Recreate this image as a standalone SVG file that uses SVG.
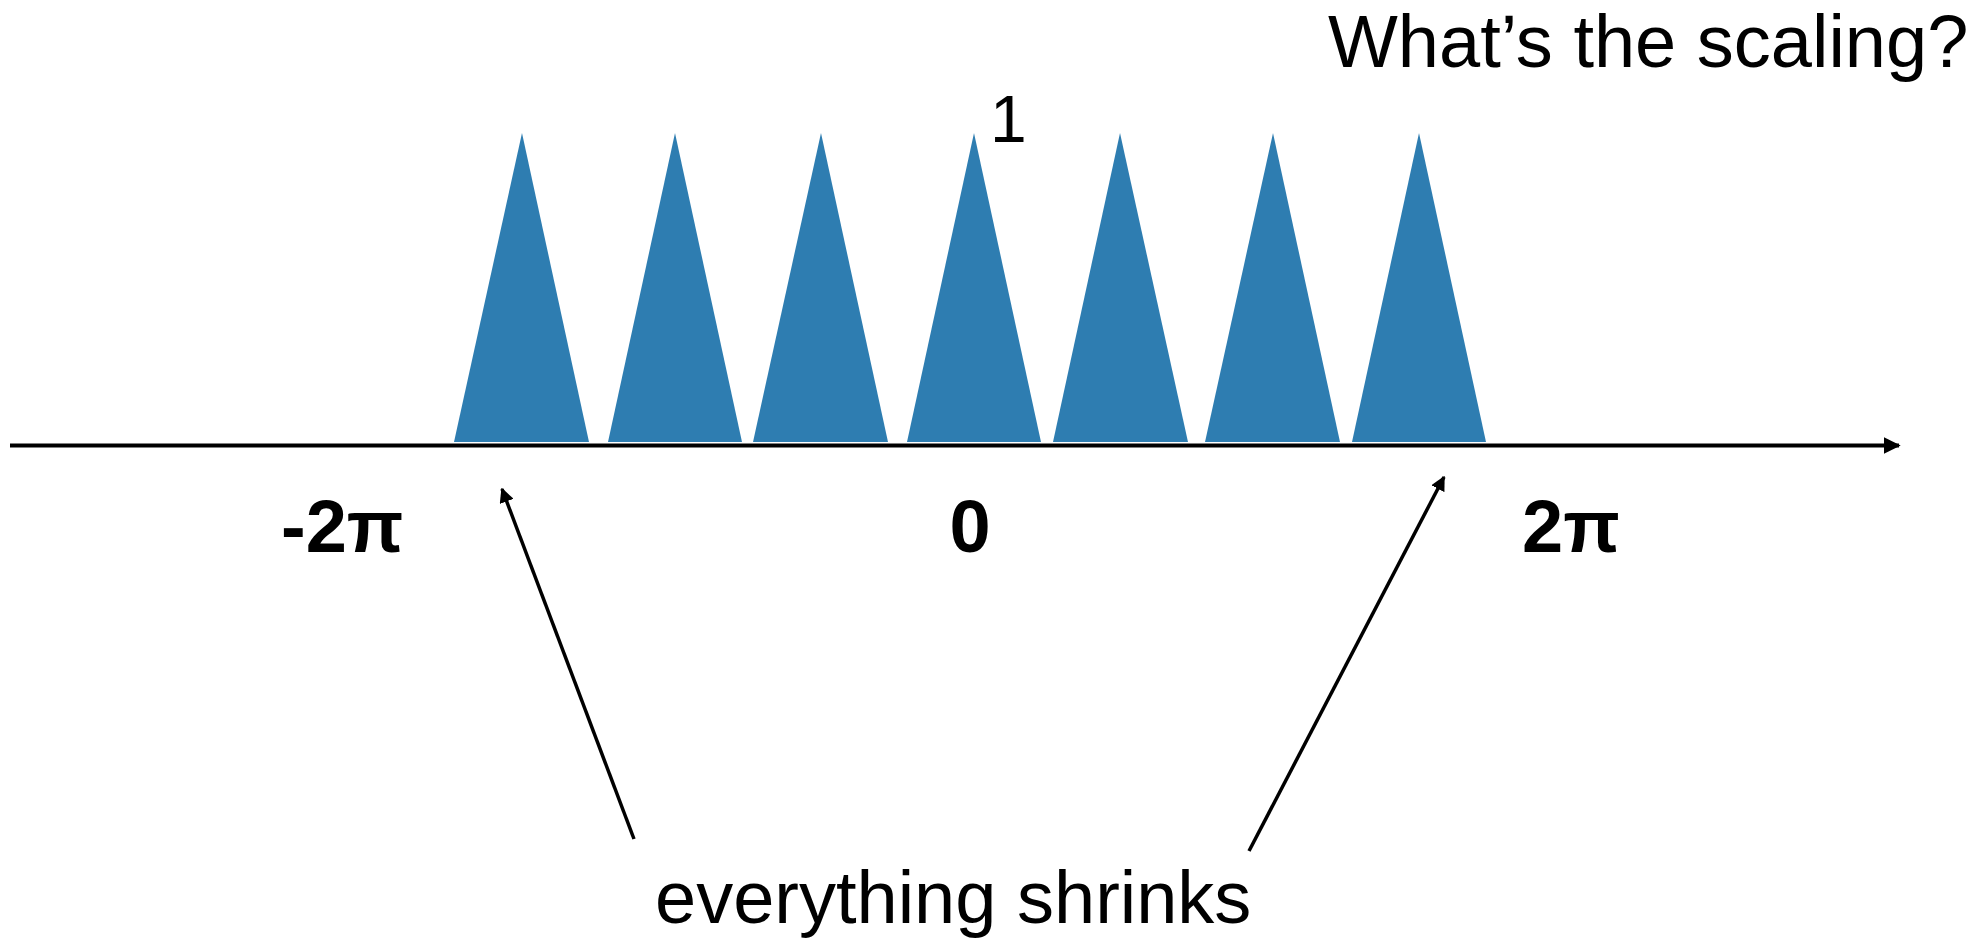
<svg xmlns="http://www.w3.org/2000/svg" width="1988" height="942" viewBox="0 0 1988 942">
  <style>
    .tri { fill: #2e7db1; }
    .lbl { font-family: "Liberation Sans", Arial, sans-serif; fill: #000; }
    .bold { font-weight: bold; font-size: 74px; }
    .norm { font-size: 74px; }
    .conn { stroke: #000; stroke-width: 3.5; fill: none; }
    .axis { stroke: #000; stroke-width: 4; fill: none; }
  </style>
  <defs>
    <marker id="ah" viewBox="0 0 10 10" refX="9" refY="5" markerWidth="4.2" markerHeight="4.2" markerUnits="strokeWidth" orient="auto">
      <path d="M0,0 L10,5 L0,10 Z" fill="#000"/>
    </marker>
  </defs>
  <rect width="1988" height="942" fill="#fff"/>
  <g id="pulses">
    <polygon id="t1" class="tri" points="454,442 589,442 522,133"/>
    <polygon id="t2" class="tri" points="608,442 742,442 675,133"/>
    <polygon id="t3" class="tri" points="753,442 888,442 821,133"/>
    <polygon id="t4" class="tri" points="907,442 1041,442 974,133"/>
    <polygon id="t5" class="tri" points="1053,442 1188,442 1120,133"/>
    <polygon id="t6" class="tri" points="1205,442 1340,442 1273,133"/>
    <polygon id="t7" class="tri" points="1352,442 1486,442 1419,133"/>
  </g>
  <g id="connectors">
    <line class="axis" x1="10" y1="445.5" x2="1899" y2="445.5" marker-end="url(#ah)"/>
    <line class="conn" x1="634" y1="839" x2="502" y2="489" marker-end="url(#ah)"/>
    <line class="conn" x1="1249" y1="851" x2="1444" y2="477" marker-end="url(#ah)"/>
  </g>
  <g id="label-one"><text class="lbl" x="990" y="142" font-size="66">1</text></g>
  <g id="label-neg2pi"><text class="lbl bold" x="281" y="552">-2π</text></g>
  <g id="label-zero"><text class="lbl bold" x="970" y="552" text-anchor="middle">0</text></g>
  <g id="label-2pi"><text class="lbl bold" x="1522" y="552">2π</text></g>
  <g id="label-title"><text class="lbl norm" x="1328" y="67">What’s the scaling?</text></g>
  <g id="label-shrinks"><text class="lbl norm" x="655" y="923">everything shrinks</text></g>
</svg>
